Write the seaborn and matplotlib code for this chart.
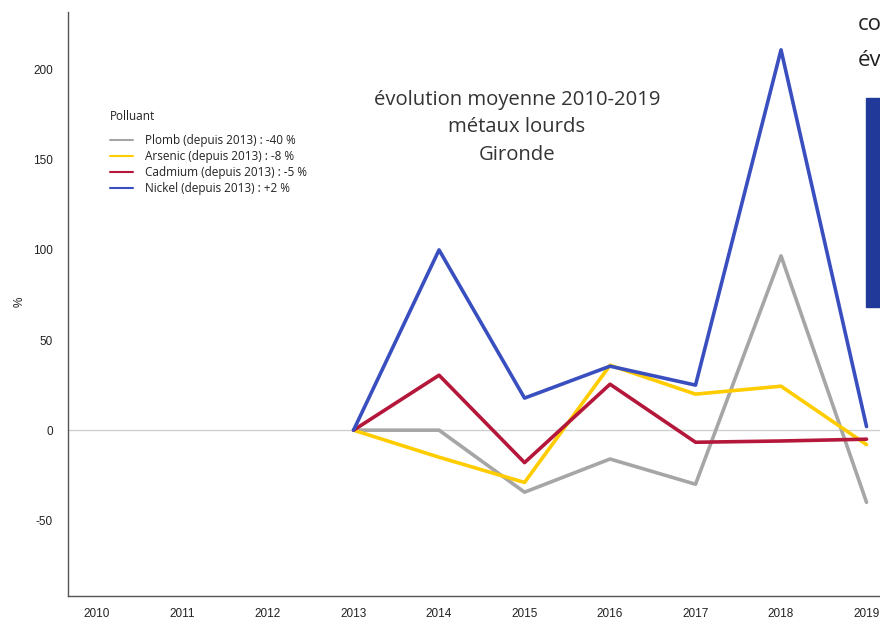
import numpy as np
import pandas as pd
import seaborn as sns
from matplotlib import pyplot as plt
from matplotlib.patches import Rectangle

years = [2010, 2011, 2012, 2013, 2014, 2015, 2016, 2017, 2018, 2019]
plomb = [np.nan, np.nan, np.nan, 0, 0, -34.4, -16, -30, 96.7, -40]
arsenic = [np.nan, np.nan, np.nan, 0, -15, -29, 36, 20, 24.4, -8]
cadmium = [np.nan, np.nan, np.nan, 0, 30.5, -18, 25.5, -6.7, -6, -5]
nickel = [np.nan, np.nan, np.nan, 0, 100, 17.8, 35.5, 25, 211, 2]

labels = ["Plomb (depuis 2013) : -40 %", "Arsenic (depuis 2013) : -8 %",
          "Cadmium (depuis 2013) : -5 %", "Nickel (depuis 2013) : +2 %"]
colors = ["#a6a6a6", "#ffcc00", "#b5173a", "#3a4fbf"]

frames = []
for lab, vals in zip(labels, [plomb, arsenic, cadmium, nickel]):
    frames.append(pd.DataFrame({"annee": years, "val": vals, "Polluant": lab}))
df = pd.concat(frames, ignore_index=True)

sns.set_style("white")
plt.rcParams['font.family'] = ['Open Sans', 'DejaVu Sans']

fig = plt.figure(figsize=(8.8, 6.21), dpi=100)
ax = fig.add_axes([68/880, 25/621, (905-68)/880, (609-25)/621])

ax.axhline(0, color="#d0d0d0", lw=1, zorder=0)
sns.lineplot(data=df, x="annee", y="val", hue="Polluant", palette=colors,
             linewidth=2.6, ax=ax)

ax.set_xlim(2009.66, 2019.45)
ax.set_ylim(-92, 232)
ax.set_xticks(years)
ax.set_xticklabels([str(y) for y in years], fontsize=8.5, family='Liberation Sans')
ax.set_yticks([-50, 0, 50, 100, 150, 200])
ax.set_yticklabels(["-50", "0", "50", "100", "150", "200"], fontsize=8.5, family='Liberation Sans')
ax.tick_params(axis='x', length=6, width=0.8, color="#444444", pad=2.5, labelcolor="#222222")
ax.tick_params(axis='y', length=5, width=0.8, color="#444444", pad=6, labelcolor="#222222")
ax.set_xlabel("")
ax.set_ylabel("")
sns.despine(ax=ax, right=True, top=True)
for s in ['left', 'bottom']:
    ax.spines[s].set_color("#555555")
    ax.spines[s].set_linewidth(1)

fig.text(20/880, 1 - 302/621, "%", rotation=90, ha="center", va="center",
         fontsize=8.5, family='Liberation Sans', color="#222222")

leg = ax.legend(title="Polluant", loc="upper left", bbox_to_anchor=(0.037, 0.85),
                frameon=False, fontsize=8.5, title_fontsize=8.5, handlelength=2.0,
                labelspacing=0.25, handletextpad=1.0)
leg._legend_box.align = "left"
leg._legend_box.sep = 8
for l in leg.get_lines():
    l.set_linewidth(1.5)
for t in leg.get_texts():
    t.set_color("#222222")
leg.get_title().set_color("#222222")

fig.text(517/880, 1 - 127/621, "évolution moyenne 2010-2019\nmétaux lourds\nGironde",
         ha="center", va="center", fontsize=14.6, color="#333333", linespacing=1.5)

fig.text(858/880, 1 - 25/621, "co", fontsize=16, va="center", color="#222222")
fig.text(858/880, 1 - 60/621, "év", fontsize=16, va="center", color="#222222")
fig.patches.append(Rectangle((866/880, 1 - 307/621), 20/880, 209/621,
                             transform=fig.transFigure, color="#213a99"))

plt.savefig("out.png", dpi=100)
